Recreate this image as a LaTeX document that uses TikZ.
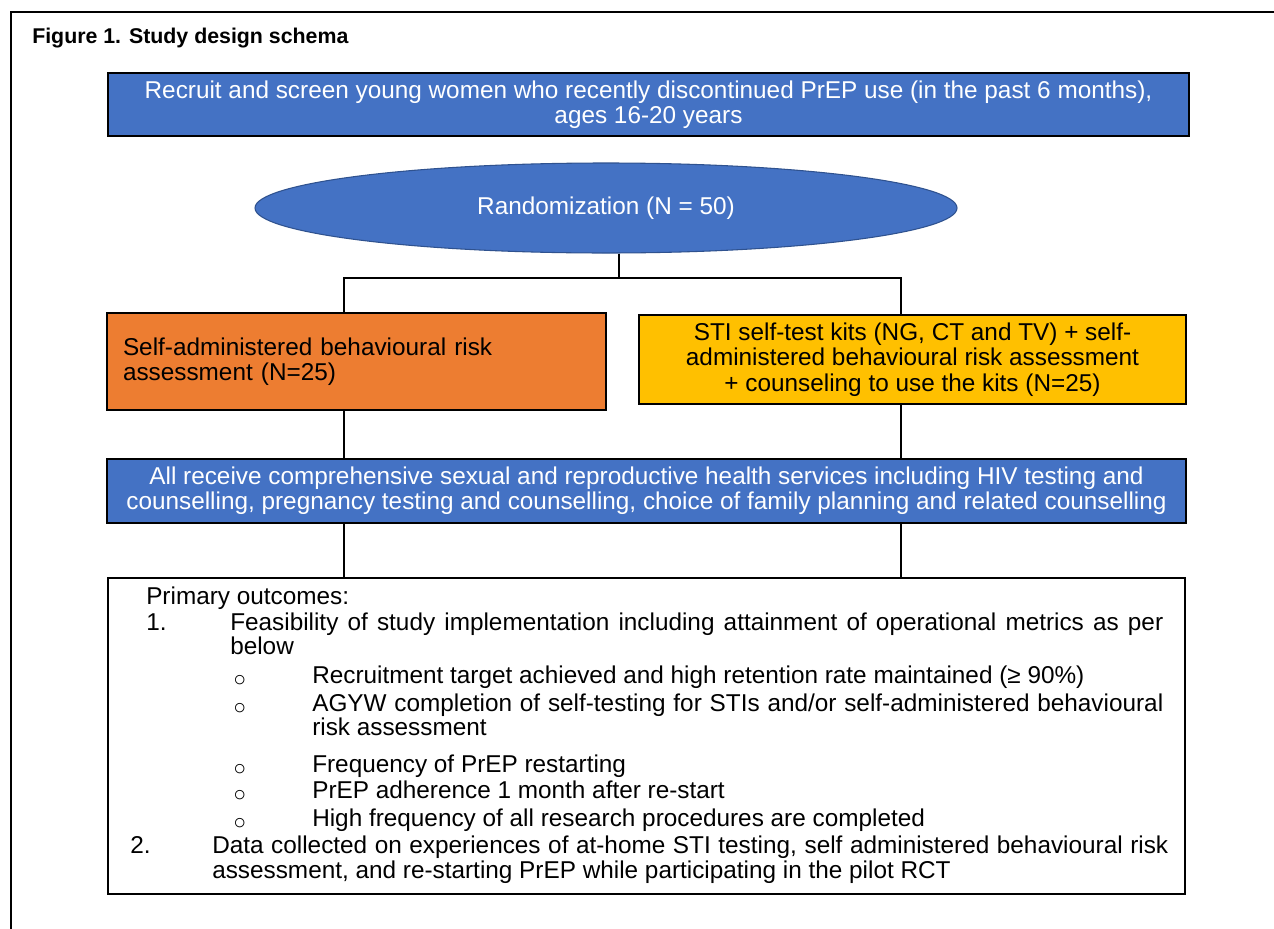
\documentclass[tikz,border=0pt]{standalone}
\usepackage{fontspec}
\setmainfont{Liberation Sans}
\usetikzlibrary{shapes.geometric, positioning}

\definecolor{boxblue}{HTML}{4472C4}
\definecolor{edgeblue}{HTML}{2F528F}
\definecolor{boxorange}{HTML}{ED7D31}
\definecolor{boxyellow}{HTML}{FFC000}

\newcommand{\bodyfont}{\fontsize{18.25}{19}\selectfont}
\newcommand{\ring}{{\fontsize{16}{16}\selectfont ○}}

\tikzset{
  box/.style={draw=black, line width=1.1pt, inner sep=0pt, align=center, font=\bodyfont},
  bluebox/.style={box, fill=boxblue, text=white},
  randnode/.style={ellipse, draw=edgeblue, line width=0.8pt, fill=boxblue, text=white, inner sep=0pt, font=\bodyfont},
  link/.style={line width=2.2pt},
  outline/.style={base west, inner sep=0pt, font=\bodyfont},
  bulletmark/.style={outline, yshift=-2.5pt},
  base west/.style={anchor=base west}
}

\begin{document}
\begin{tikzpicture}[x=0.75pt, y=-0.75pt]

    \useasboundingbox (0,0) rectangle (1274,928);

    % outer frame (runs off the page)
    \draw[line width=1.5pt] (11,940) -- (11,12) -- (1290,12);

    % title
    \node[anchor=base west, inner sep=0pt, font=\bfseries\fontsize{16}{19}\selectfont] (title) at (32,43)
        {Figure 1. Study design schema};

    % boxes
    \node[bluebox, minimum width=810.75pt, minimum height=47.25pt] (recruit) at (648.5,104.5)
        {Recruit and screen young women who recently discontinued PrEP use (in the past 6 months),\\ ages 16-20 years};

    \node[randnode, minimum width=526.5pt, minimum height=67.5pt] (rand) at (606,208)
        {Randomization (N = 50)};

    \node[box, fill=boxorange, align=left, text width=350.25pt,
          minimum width=374.25pt, minimum height=72.75pt] (armA) at (356.5,361.5)
        {Self-administered behavioural risk\\ assessment (N=25)};

    \node[box, fill=boxyellow, minimum width=410.25pt, minimum height=66.75pt] (armB) at (912.5,359.5)
        {STI self-test kits (NG, CT and TV) + self-\\ administered behavioural risk assessment\\ + counseling to use the kits (N=25)};

    \node[bluebox, minimum width=809.25pt, minimum height=48pt] (srh) at (646.5,491)
        {All receive comprehensive sexual and reproductive health services including HIV testing and\\
         counselling, pregnancy testing and counselling, choice of family planning and related counselling};

    \node[box, fill=white, minimum width=807.75pt, minimum height=237pt] (outc) at (646.5,736) {};

    % connectors
    \coordinate (stem) at (619,278);
    \coordinate (barL) at (344,278);
    \coordinate (barR) at (901,278);
    \draw[link] (stem |- rand.south) -- (stem);
    \draw[link] (barL |- armA.north) -- (barL) -- (barR) -- (barR |- armB.north);
    \draw[link] (armA.south -| barL) -- (srh.north -| barL);
    \draw[link] (armB.south -| barR) -- (srh.north -| barR);
    \draw[link] (srh.south -| barL) -- (outc.north -| barL);
    \draw[link] (srh.south -| barR) -- (outc.north -| barR);

    % outcomes text
    \node[outline] (head) at (146,604) {Primary outcomes:};
    \node[outline] (n1) at (146,630) {1.};
    \node[outline] (t1) at (230,630) {\makebox[699.75pt][s]{Feasibility of study implementation including attainment of operational metrics as per}};
    \node[outline] (t1b) at (230,654) {below};
    \node[bulletmark] (b1) at (233,683) {\ring};
    \node[outline] (s1) at (312,683) {Recruitment target achieved and high retention rate maintained (≥ 90\%)};
    \node[bulletmark] (b2) at (233,711) {\ring};
    \node[outline] (s2) at (312,711) {\makebox[638.25pt][s]{AGYW completion of self-testing for STIs and/or self-administered behavioural}};
    \node[outline] (s2b) at (312,735) {risk assessment};
    \node[bulletmark] (b3) at (233,772) {\ring};
    \node[outline] (s3) at (312,772) {Frequency of PrEP restarting};
    \node[bulletmark] (b4) at (233,798) {\ring};
    \node[outline] (s4) at (312,798) {PrEP adherence 1 month after re-start};
    \node[bulletmark] (b5) at (233,826) {\ring};
    \node[outline] (s5) at (312,826) {High frequency of all research procedures are completed};
    \node[outline] (n2) at (130,853) {2.};
    \node[outline] (t2) at (212,853) {\makebox[717pt][s]{Data collected on experiences of at-home STI testing, self administered behavioural risk}};
    \node[outline] (t2b) at (212,878) {assessment, and re-starting PrEP while participating in the pilot RCT};

\end{tikzpicture}
\end{document}
